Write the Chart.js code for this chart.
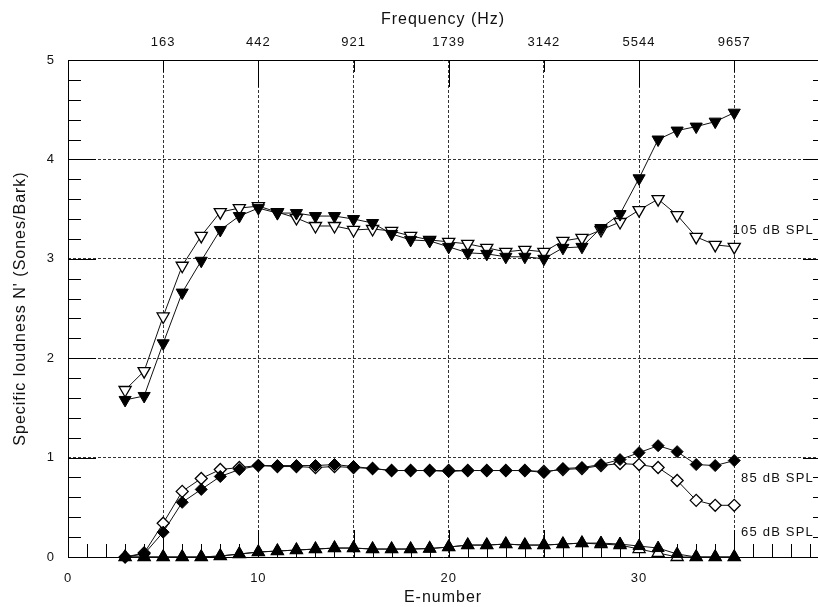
<!DOCTYPE html>
<html>
<head>
<meta charset="utf-8">
<script src="https://cdn.jsdelivr.net/npm/chart.js@4/dist/chart.umd.min.js"></script>
<style>
  html, body { margin: 0; padding: 0; background: #fff; overflow: hidden; }
  #chart { display: block; }
</style>
</head>
<body>
<canvas id="chart" width="818" height="607"></canvas>
<script>
// E-number positions of the measured bands
const eNumbers = [3, 4, 5, 6, 7, 8, 9, 10, 11, 12, 13, 14, 15, 16, 17, 18, 19, 20,
  21, 22, 23, 24, 25, 26, 27, 28, 29, 30, 31, 32, 33, 34, 35];

// 105 dB SPL
const spl105Filled = [1.58, 1.62, 2.15, 2.66, 2.98, 3.29, 3.43, 3.51, 3.46, 3.46, 3.43, 3.43, 3.40, 3.36, 3.25, 3.19, 3.18, 3.12,
  3.06, 3.05, 3.02, 3.02, 3.00, 3.11, 3.12, 3.31, 3.45, 3.81, 4.20, 4.29, 4.33, 4.38, 4.47];
const spl105Open = [1.68, 1.87, 2.42, 2.93, 3.23, 3.47, 3.51, 3.53, 3.47, 3.41, 3.33, 3.33, 3.29, 3.30, 3.28, 3.23, 3.19, 3.17,
  3.15, 3.11, 3.07, 3.09, 3.07, 3.18, 3.21, 3.29, 3.37, 3.49, 3.60, 3.44, 3.22, 3.14, 3.12];

// 85 dB SPL
const spl85Filled = [0.00, 0.03, 0.25, 0.55, 0.68, 0.81, 0.88, 0.92, 0.92, 0.92, 0.92, 0.93, 0.91, 0.89, 0.87, 0.87, 0.87, 0.86,
  0.87, 0.87, 0.87, 0.87, 0.85, 0.89, 0.90, 0.93, 0.98, 1.05, 1.12, 1.06, 0.93, 0.92, 0.97];
const spl85Open = [0.00, 0.04, 0.34, 0.66, 0.79, 0.88, 0.90, 0.92, 0.91, 0.91, 0.90, 0.91, 0.90, 0.89, 0.87, 0.87, 0.87, 0.87,
  0.87, 0.87, 0.87, 0.87, 0.86, 0.88, 0.89, 0.92, 0.94, 0.93, 0.90, 0.77, 0.57, 0.52, 0.52];

// 65 dB SPL
const spl65Filled = [0.00, 0.00, 0.00, 0.00, 0.00, 0.01, 0.03, 0.05, 0.06, 0.07, 0.08, 0.09, 0.09, 0.08, 0.08, 0.08, 0.085, 0.10,
  0.12, 0.12, 0.13, 0.12, 0.12, 0.13, 0.14, 0.14, 0.13, 0.11, 0.09, 0.03, 0.00, 0.00, 0.00];
const spl65Open = [0.00, 0.00, 0.00, 0.00, 0.00, 0.01, 0.03, 0.05, 0.06, 0.07, 0.08, 0.09, 0.09, 0.08, 0.08, 0.08, 0.085, 0.10,
  0.12, 0.12, 0.13, 0.12, 0.12, 0.13, 0.14, 0.13, 0.12, 0.08, 0.04, 0.00, 0.00, 0.00, 0.00];

// top axis: frequency labels at E-number positions
const freqTickPos = [5, 10, 15, 20, 25, 30, 35];
const freqLabels = ['163', '442', '921', '1739', '3142', '5544', '9657'];
const bottomLabels = [0, 10, 20, 30];

// level labels on the right
const levelLabels = ['105 dB SPL', '85 dB SPL', '65 dB SPL'];
const levelLabelY = [3.29, 0.79, 0.25];

const FONT = '"Liberation Sans", Arial, Helvetica, sans-serif';
const pts = vals => eNumbers.map((e, i) => ({ x: e, y: vals[i] }));

function series(vals, style, rot, filled, radius) {
    return {
        data: pts(vals),
        borderColor: '#111',
        borderWidth: 1,
        pointStyle: style,
        rotation: rot,
        pointRadius: radius,
        pointBackgroundColor: filled ? '#000' : '#fff',
        pointBorderColor: '#000',
        pointBorderWidth: filled ? 1 : 1.3,
        clip: false,
        tension: 0
    };
}

// inward tick marks, axis frame + level labels
const axisTicks = {
    id: 'axisTicks',
    beforeDraw(chart) {
        chart.ctx.letterSpacing = '1px';
    },
    beforeDatasetsDraw(chart) {
        const { ctx, chartArea: a, scales: { x, y } } = chart;
        ctx.save();
        ctx.setLineDash([]);
        ctx.strokeStyle = '#000';
        ctx.lineWidth = 1;
        ctx.beginPath();
        // frame (left, bottom, top)
        const l = Math.round(a.left) + 0.5, b = Math.round(a.bottom) + 0.5, t = Math.round(a.top) + 0.5;
        ctx.moveTo(l, t); ctx.lineTo(l, b); ctx.lineTo(a.right, b);
        ctx.moveTo(l, t); ctx.lineTo(a.right, t);
        for (let i = 0; i <= 25; i++) {
            const py = Math.round(y.getPixelForValue(i / 5)) + 0.5;
            const major = i % 5 === 0;
            ctx.moveTo(a.left, py); ctx.lineTo(a.left + (major ? 28 : 13), py);
            ctx.moveTo(a.right, py); ctx.lineTo(a.right - (major ? 15 : 5), py);
        }
        for (let e = 1; e <= 39; e++) {
            const px = Math.round(x.getPixelForValue(e)) + 0.5;
            ctx.moveTo(px, a.bottom); ctx.lineTo(px, a.bottom - (e % 5 === 0 ? 27 : 13));
        }
        freqTickPos.forEach(e => {
            const px = Math.round(x.getPixelForValue(e)) + 0.5;
            ctx.moveTo(px, a.top); ctx.lineTo(px, a.top + (e % 10 === 0 ? 27 : 12));
        });
        ctx.stroke();
        ctx.restore();
    },
    afterDraw(chart) {
        const { ctx, chartArea: a, scales: { y } } = chart;
        ctx.save();
        ctx.letterSpacing = '1.2px';
        ctx.font = '13px ' + FONT;
        ctx.fillStyle = '#111';
        ctx.textAlign = 'right';
        ctx.textBaseline = 'middle';
        levelLabels.forEach((t, i) => ctx.fillText(t, a.right - 4, y.getPixelForValue(levelLabelY[i])));
        ctx.restore();
    }
};

const gridColor = '#333';
const noPad = (s, h) => { s.height = h; s.paddingLeft = 0; s.paddingRight = 0; };

new Chart(document.getElementById('chart'), {
    type: 'line',
    data: {
        datasets: [
            series(spl105Filled, 'triangle', 180, true, 7),
            series(spl85Filled, 'rectRot', 0, true, 6),
            series(spl65Filled, 'triangle', 0, true, 7),
            series(spl105Open, 'triangle', 180, false, 7),
            series(spl85Open, 'rectRot', 0, false, 6),
            series(spl65Open, 'triangle', 0, false, 7)
        ]
    },
    options: {
        responsive: false,
        animation: false,
        layout: { padding: 0, autoPadding: false },
        plugins: { legend: { display: false }, tooltip: { enabled: false } },
        scales: {
            x: {
                type: 'linear', position: 'bottom', min: 0, max: 39.4,
                afterFit: s => noPad(s, 50),
                border: { display: false, dash: [3, 2] },
                grid: {
                    drawTicks: false,
                    lineWidth: 1,
                    color: c => (c.tick && c.tick.value % 5 === 0 && c.tick.value > 0) ? gridColor : 'rgba(0,0,0,0)'
                },
                ticks: {
                    stepSize: 1, includeBounds: false, autoSkip: false, maxRotation: 0,
                    padding: 14, color: '#111', font: { size: 13, family: FONT },
                    callback: v => bottomLabels.includes(v) ? String(v) : ''
                },
                title: { display: true, text: 'E-number', color: '#111', padding: { top: 0, bottom: 0 }, font: { size: 16, family: FONT } }
            },
            x2: {
                type: 'linear', position: 'top', min: 0, max: 39.4,
                afterFit: s => noPad(s, 60),
                border: { display: false },
                grid: { display: false, drawTicks: false },
                ticks: {
                    stepSize: 5, includeBounds: false, autoSkip: false, maxRotation: 0,
                    padding: 10, color: '#111', font: { size: 13, family: FONT },
                    callback: v => { const i = freqTickPos.indexOf(v); return i >= 0 ? freqLabels[i] : ''; }
                },
                title: { display: true, text: 'Frequency (Hz)', color: '#111', padding: { top: 10, bottom: 0 }, font: { size: 16, family: FONT } }
            },
            y: {
                type: 'linear', position: 'left', min: 0, max: 5,
                afterFit: s => { s.width = 68; },
                border: { display: false, dash: [3, 2] },
                grid: {
                    drawTicks: false,
                    lineWidth: 1,
                    color: c => (c.tick && c.tick.value > 0 && c.tick.value < 5) ? gridColor : 'rgba(0,0,0,0)'
                },
                ticks: { stepSize: 1, padding: 13, color: '#111', font: { size: 13, family: FONT } },
                title: { display: true, text: "Specific loudness N' (Sones/Bark)", color: '#111', padding: { top: 11, bottom: 0 }, font: { size: 16, family: FONT } }
            }
        }
    },
    plugins: [axisTicks]
});
</script>
</body>
</html>
